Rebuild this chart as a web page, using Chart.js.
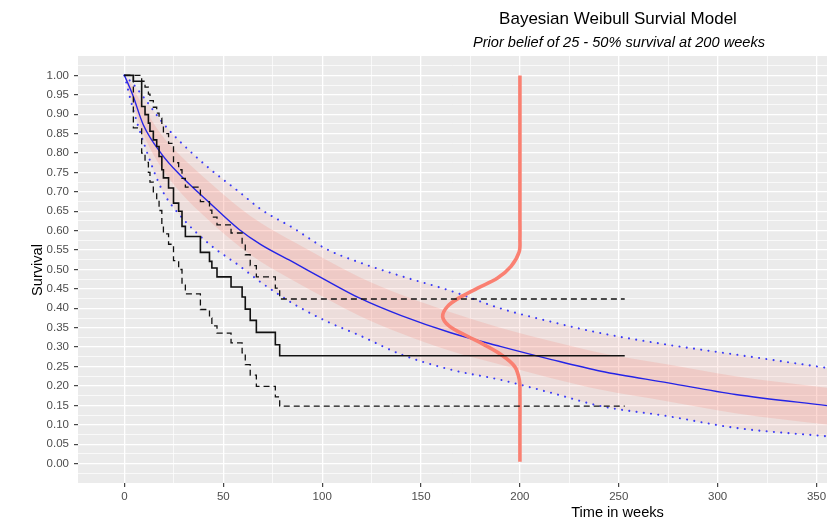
<!DOCTYPE html>
<html><head><meta charset="utf-8">
<script src="https://cdn.jsdelivr.net/npm/chart.js@4/dist/chart.umd.min.js"></script>
<style>html,body{margin:0;padding:0;background:#fff;overflow:hidden}#wrap{width:827px;height:525px;position:relative}</style>
</head><body><div id="wrap"><canvas id="c" width="827" height="525"></canvas></div>
<script>
// ---- text ----
const titleText = 'Bayesian Weibull Survial Model';
const subtitleText = 'Prior belief of 25 - 50% survival at 200 weeks';
const xAxisTitle = 'Time in weeks';
const yAxisTitle = 'Survival';
const xTickLabels = ['0','50','100','150','200','250','300','350'];
const yTickLabels = ['0.00','0.05','0.10','0.15','0.20','0.25','0.30','0.35','0.40','0.45','0.50',
                     '0.55','0.60','0.65','0.70','0.75','0.80','0.85','0.90','0.95','1.00'];

// ---- Kaplan-Meier estimate with confidence limits ----
const kmTime  = [0, 4.5, 8.7, 10.4, 12.1, 12.9, 14.6, 16.3, 17.5, 18.9, 19.7, 22.3, 24.8, 27.4, 29.1, 30.8, 38.4, 43.0, 44.2, 46.8, 53.9, 59.5, 61.1, 63.6, 66.7, 76.3, 78.5, 253];
const kmSurv  = [1, 0.985, 0.92, 0.899, 0.877, 0.856, 0.834, 0.817, 0.791, 0.757, 0.736, 0.710, 0.671, 0.650, 0.611, 0.585, 0.544, 0.521, 0.504, 0.481, 0.455, 0.429, 0.398, 0.369, 0.338, 0.306, 0.278, 0.278];
const kmUpper = [1, 1.0, 0.985, 0.97, 0.952, 0.935, 0.918, 0.903, 0.89, 0.87, 0.85, 0.825, 0.775, 0.757, 0.735, 0.712, 0.675, 0.653, 0.635, 0.615, 0.594, 0.568, 0.538, 0.51, 0.481, 0.452, 0.424, 0.424];
const kmLower = [1, 0.865, 0.80, 0.776, 0.75, 0.725, 0.70, 0.68, 0.652, 0.615, 0.592, 0.565, 0.523, 0.50, 0.46, 0.437, 0.397, 0.375, 0.355, 0.336, 0.311, 0.285, 0.255, 0.228, 0.199, 0.172, 0.148, 0.148];

// ---- Bayesian Weibull posterior ----
const curveTime   = [0, 4, 9.5, 19, 28, 43, 58, 69, 86, 102, 119, 140, 165, 190, 216, 241, 275, 309, 356];
const postMedian  = [1, 0.952, 0.873, 0.796, 0.744, 0.672, 0.603, 0.564, 0.517, 0.472, 0.426, 0.381, 0.337, 0.302, 0.268, 0.238, 0.208, 0.178, 0.149];
const postUpper   = [1, 0.98, 0.945, 0.88, 0.83, 0.76, 0.70, 0.655, 0.605, 0.553, 0.518, 0.483, 0.445, 0.40, 0.365, 0.336, 0.306, 0.281, 0.246];
const postLower   = [1, 0.92, 0.83, 0.705, 0.64, 0.565, 0.51, 0.467, 0.41, 0.367, 0.33, 0.281, 0.242, 0.216, 0.182, 0.148, 0.122, 0.092, 0.07];
const drawsDenseHi = [1, 0.97, 0.92, 0.845, 0.795, 0.725, 0.66, 0.62, 0.57, 0.525, 0.48, 0.435, 0.39, 0.35, 0.315, 0.285, 0.255, 0.225, 0.195];
const drawsDenseLo = [1, 0.935, 0.85, 0.76, 0.70, 0.625, 0.56, 0.52, 0.47, 0.425, 0.38, 0.335, 0.29, 0.255, 0.22, 0.19, 0.16, 0.13, 0.10];

// ---- prior density of survival at 200 weeks (drawn sideways) ----
const priorTime = [200, 200, 200, 200, 199.6, 195.5, 188.7, 178.6, 169.3, 163.4, 160.9, 164.3, 173.5, 182, 190.4, 197.2, 199.7, 200, 200, 200];
const priorSurv = [1.0, 0.8, 0.63, 0.58, 0.545, 0.508, 0.478, 0.452, 0.427, 0.405, 0.379, 0.354, 0.328, 0.306, 0.281, 0.251, 0.216, 0.18, 0.1, 0.005];

const pts = (xs, ys) => xs.map((x, i) => ({x: x, y: ys[i]}));
const FONT = '"Liberation Sans", Arial, sans-serif';

const isMajor = (v, step) => Math.abs(v / step - Math.round(v / step)) < 1e-6;

const textPlugin = {
  id: 'texts',
  beforeDraw(chart) {
    const {ctx, chartArea: a} = chart;
    ctx.save();
    ctx.fillStyle = '#ffffff';
    ctx.fillRect(0, 0, chart.width, chart.height);
    ctx.fillStyle = '#ebebeb';
    ctx.fillRect(a.left, a.top, a.right - a.left, a.bottom - a.top);
    ctx.restore();
  },
  afterDraw(chart) {
    const ctx = chart.ctx;
    ctx.save();
    ctx.fillStyle = '#000000';
    ctx.textAlign = 'center';
    ctx.textBaseline = 'alphabetic';
    ctx.font = '17px ' + FONT;
    ctx.fillText(titleText, 618, 23.5);
    ctx.font = 'italic 14.6px ' + FONT;
    ctx.fillText(subtitleText, 619, 46.5);
    ctx.font = '14.6px ' + FONT;
    ctx.fillText(xAxisTitle, 617.5, 517);
    ctx.translate(41.5, 270);
    ctx.rotate(-Math.PI / 2);
    ctx.fillText(yAxisTitle, 0, 0);
    ctx.restore();
  }
};

const line = (label, data, color, width, extra) => Object.assign({
  label, data, borderColor: color, borderWidth: width, pointRadius: 0, fill: false,
  backgroundColor: 'rgba(0,0,0,0)'
}, extra || {});

new Chart(document.getElementById('c'), {
  type: 'line',
  data: {
    datasets: [
      line('KM', pts(kmTime, kmSurv), '#111111', 1.6, {stepped: 'before', order: 1}),
      line('KM upper', pts(kmTime, kmUpper), '#111111', 1.3, {stepped: 'before', borderDash: [6, 4], order: 2}),
      line('KM lower', pts(kmTime, kmLower), '#111111', 1.3, {stepped: 'before', borderDash: [6, 4], order: 3}),
      line('Prior', pts(priorTime, priorSurv), '#fa8072', 3.6, {tension: 0.35, order: 4, borderCapStyle: 'butt'}),
      line('Posterior median', pts(curveTime, postMedian), '#2424e6', 1.4, {cubicInterpolationMode: 'monotone', order: 5}),
      line('Posterior upper', pts(curveTime, postUpper), '#3c3cf5', 2.1, {cubicInterpolationMode: 'monotone', borderDash: [0.01, 7.3], borderCapStyle: 'round', order: 6}),
      line('Posterior lower', pts(curveTime, postLower), '#3c3cf5', 2.1, {cubicInterpolationMode: 'monotone', borderDash: [0.01, 7.3], borderCapStyle: 'round', order: 7}),
      line('Draws dense hi', pts(curveTime, drawsDenseHi), 'rgba(0,0,0,0)', 0, {cubicInterpolationMode: 'monotone', fill: '+1', backgroundColor: 'rgba(250,128,114,0.20)', order: 8}),
      line('Draws dense lo', pts(curveTime, drawsDenseLo), 'rgba(0,0,0,0)', 0, {cubicInterpolationMode: 'monotone', order: 9}),
      line('Draws hi', pts(curveTime, postUpper), 'rgba(0,0,0,0)', 0, {cubicInterpolationMode: 'monotone', fill: '+1', backgroundColor: 'rgba(250,128,114,0.13)', order: 10}),
      line('Draws lo', pts(curveTime, postLower), 'rgba(0,0,0,0)', 0, {cubicInterpolationMode: 'monotone', order: 11})
    ]
  },
  options: {
    responsive: false,
    devicePixelRatio: 1,
    animation: false,
    events: [],
    layout: {padding: {top: 56, left: 0, right: 0, bottom: 0}},
    plugins: {legend: {display: false}, tooltip: {enabled: false}, title: {display: false}},
    scales: {
      x: {
        type: 'linear', min: -23.5, max: 355.3,
        afterBuildTicks(scale) {
          const t = [];
          for (let v = 0; v <= 350; v += 25) t.push({value: v});
          scale.ticks = t;
        },
        afterFit(scale) { scale.height = 42; scale.paddingLeft = 0; scale.paddingRight = 0; },
        border: {display: false},
        grid: {
          color: '#ffffff',
          lineWidth: (c) => isMajor(c.tick.value, 50) ? 1.3 : 0.7,
          drawTicks: true, tickLength: 4, tickWidth: 1.1,
          tickColor: (c) => isMajor(c.tick.value, 50) ? '#333333' : 'rgba(0,0,0,0)'
        },
        ticks: {
          autoSkip: false, maxRotation: 0, padding: 3, color: '#4d4d4d',
          font: {family: FONT, size: 11.5},
          callback: (v) => isMajor(v, 50) ? (xTickLabels[Math.round(v / 50)] || '') : ''
        }
      },
      y: {
        type: 'linear', min: -0.05, max: 1.05,
        afterBuildTicks(scale) {
          const t = [];
          for (let i = -1; i <= 41; i++) t.push({value: Math.round(i * 25) / 1000});
          scale.ticks = t;
        },
        afterFit(scale) { scale.width = 78; },
        border: {display: false},
        grid: {
          color: '#ffffff',
          lineWidth: (c) => isMajor(c.tick.value, 0.05) ? 1.3 : 0.7,
          drawTicks: true, tickLength: 4, tickWidth: 1.1,
          tickColor: (c) => isMajor(c.tick.value, 0.05) ? '#333333' : 'rgba(0,0,0,0)'
        },
        ticks: {
          autoSkip: false, padding: 5, color: '#4d4d4d',
          font: {family: FONT, size: 11.5},
          callback: (v) => {
            const k = Math.round(v * 20);
            return (isMajor(v, 0.05) && k >= 0 && k < yTickLabels.length) ? yTickLabels[k] : '';
          }
        }
      }
    }
  },
  plugins: [textPlugin]
});
</script></body></html>
